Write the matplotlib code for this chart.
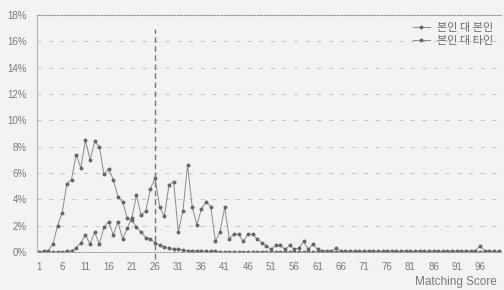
import matplotlib
matplotlib.use('Agg')
from matplotlib import pyplot as plt

# matching score 1..100
scores = list(range(1, 101))

# 본인 대 본인 (%)
self_self = [0.0, 0.05, 0.1, 0.6, 2.0, 3.0, 5.2, 5.5, 7.4, 6.4,
             8.5, 7.0, 8.4, 8.0, 5.9, 6.3, 5.5, 4.2, 3.8, 2.6,
             2.4, 1.9, 1.5, 1.1, 1.0, 0.7, 0.5, 0.35, 0.3, 0.2,
             0.2, 0.15, 0.1, 0.1, 0.1, 0.05, 0.05, 0.05, 0.05, 0.0,
             0.0, 0.0, 0.0, 0.0, 0.0, 0.0, 0.0, 0.0, 0.0, 0.0,
             0.0, 0.0, 0.0, 0.0, 0.0, 0.0, 0.0, 0.0, 0.0, 0.0,
             0.0, 0.0, 0.0, 0.0, 0.0, 0.0, 0.0, 0.0, 0.0, 0.0,
             0.0, 0.0, 0.0, 0.0, 0.0, 0.0, 0.0, 0.0, 0.0, 0.0,
             0.0, 0.0, 0.0, 0.0, 0.0, 0.0, 0.0, 0.0, 0.0, 0.0,
             0.0, 0.0, 0.0, 0.0, 0.0, 0.0, 0.0, 0.0, 0.0, 0.0]

# 본인 대 타인 (%)
self_other = [0.0, 0.0, 0.0, 0.0, 0.0, 0.0, 0.05, 0.1, 0.3, 0.7,
              1.3, 0.6, 1.5, 0.6, 1.9, 2.3, 1.3, 2.3, 1.0, 1.8,
              2.6, 4.3, 2.8, 3.1, 4.8, 5.6, 3.4, 2.7, 5.1, 5.35,
              1.55, 3.1, 6.6, 3.45, 2.05, 3.3, 3.8, 3.45, 0.8, 1.55,
              3.4, 1.0, 1.35, 1.35, 0.8, 1.35, 1.35, 1.0, 0.7, 0.45,
              0.2, 0.5, 0.5, 0.2, 0.5, 0.2, 0.3, 0.8, 0.2, 0.6,
              0.2, 0.1, 0.1, 0.05, 0.3, 0.05, 0.05, 0.1, 0.05, 0.05,
              0.05, 0.1, 0.05, 0.05, 0.05, 0.1, 0.05, 0.05, 0.05, 0.1,
              0.05, 0.05, 0.1, 0.05, 0.05, 0.1, 0.05, 0.05, 0.05, 0.1,
              0.05, 0.05, 0.1, 0.05, 0.1, 0.45, 0.1, 0.05, 0.05, 0.05]

xtick_vals = list(range(1, 100, 5))
ytick_vals = [0, 2, 4, 6, 8, 10, 12, 14, 16, 18]
threshold = 26

bg = '#f3f3f1'
txt = '#7a7a7a'

fig = plt.figure(figsize=(5.04, 2.9), dpi=100, facecolor=bg)
ax = fig.add_axes([0.0728, 0.131, 0.921, 0.817], facecolor=bg)

ax.plot(scores, self_self, color='#8a8a8a', lw=0.7, marker='o', ms=1.8,
        mfc='#666666', mec='#666666', label='본인 대 본인')
ax.plot(scores, self_other, color='#8a8a8a', lw=0.7, marker='o', ms=1.8,
        mfc='#666666', mec='#666666', label='본인 대 타인')

# threshold line
ax.axvline(threshold, ymin=-0.03, ymax=0.94, color='#777777', lw=1.0,
           ls=(0, (4, 2.5)), clip_on=False)

ax.set_xlim(0.5, 100.5)
ax.set_ylim(0, 18)
ax.set_xticks(xtick_vals)
ax.set_yticks(ytick_vals)
ax.set_yticklabels([str(v) + '%' for v in ytick_vals])
ax.tick_params(length=0, labelsize=7, labelcolor=txt)
ax.tick_params(axis='x', pad=7.5)
ax.tick_params(axis='y', pad=7)
for lab in ax.get_xticklabels() + ax.get_yticklabels():
    lab.set_family('Liberation Sans')

ax.grid(axis='y', color='#c4c4c4', lw=0.7, ls=(0, (4, 8)))
ax.spines['right'].set_visible(False)
ax.spines['top'].set_color('#9a9a9a')
ax.spines['top'].set_linestyle((0, (1.5, 1.5)))
ax.spines['top'].set_linewidth(0.8)
ax.spines['left'].set_color('#b0b0b0')
ax.spines['left'].set_linewidth(0.8)
ax.spines['bottom'].set_color('#a0a0a0')
ax.spines['bottom'].set_linestyle((0, (2, 1.5)))
ax.spines['bottom'].set_linewidth(0.7)

leg = ax.legend(loc='upper right', bbox_to_anchor=(1.005, 1.01), frameon=False,
                prop={'family': 'Noto Sans CJK KR', 'size': 8},
                handlelength=1.6, handletextpad=0.6, labelspacing=0.3)
for t in leg.get_texts():
    t.set_color('#6a6a6a')

fig.text(497 / 504, 1 - 282 / 290, 'Matching Score', ha='right', va='center',
         fontsize=8.5, color=txt, family='Liberation Sans')

fig.savefig('out.png', dpi=100, facecolor=bg)
plt.close(fig)
